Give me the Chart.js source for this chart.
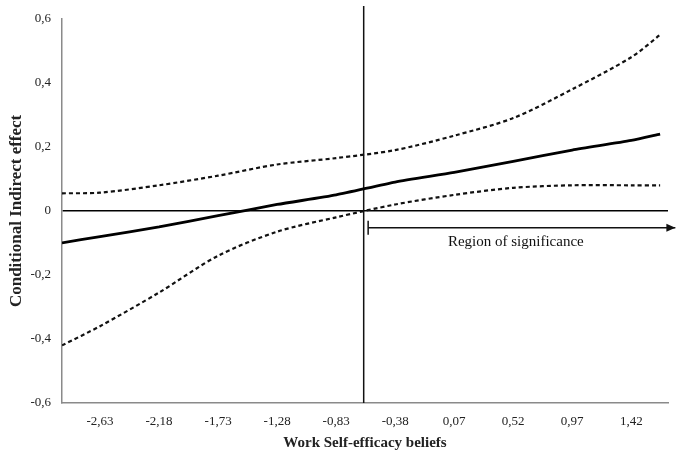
<!DOCTYPE html>
<html>
<head>
<meta charset="utf-8">
<script src="https://cdn.jsdelivr.net/npm/chart.js@4"></script>
<style>
  html, body { margin: 0; padding: 0; background: #fff; }
  #wrap { width: 678px; height: 452px; }
</style>
</head>
<body>
<div id="wrap"><canvas id="chart" width="678" height="452"></canvas></div>
<script>
// Moderator values (work self-efficacy, centred)
const xValues = [-2.92, -2.63, -2.18, -1.73, -1.28, -0.83, -0.38, 0.07, 0.52, 0.97, 1.42, 1.64];
// Conditional indirect effect and its confidence bounds
const effect = [-0.10, -0.08, -0.05, -0.015, 0.02, 0.05, 0.09, 0.12, 0.155, 0.19, 0.22, 0.24];
const upperCI = [0.055, 0.057, 0.08, 0.11, 0.145, 0.165, 0.19, 0.235, 0.29, 0.38, 0.48, 0.55];
const lowerCI = [-0.42, -0.36, -0.255, -0.14, -0.065, -0.02, 0.02, 0.05, 0.072, 0.08, 0.08, 0.08];

const xTicks = [-2.63, -2.18, -1.73, -1.28, -0.83, -0.38, 0.07, 0.52, 0.97, 1.42];
const yTicks = [-0.6, -0.4, -0.2, 0, 0.2, 0.4, 0.6];

// Johnson-Neyman point and region of significance arrow
const jnX = [-0.62, -0.62];
const jnY = [-0.6, 0.64];
const regionX = [-0.586, 1.756];
const regionY = [-0.053, -0.053];
const regionLabel = 'Region of significance';
const regionLabelPos = [0.54, -0.097];

const pts = (xs, ys) => xs.map((x, i) => ({ x: x, y: ys[i] }));
const serif = '"Liberation Serif", "Times New Roman", serif';

const regionPlugin = {
  id: 'region',
  afterDatasetsDraw(chart) {
    const { ctx, scales } = chart;
    const x0 = scales.x.getPixelForValue(regionX[0]);
    const x1 = scales.x.getPixelForValue(regionX[1]);
    const y = scales.y.getPixelForValue(regionY[0]);
    ctx.save();
    ctx.strokeStyle = '#111';
    ctx.fillStyle = '#111';
    ctx.lineWidth = 1.5;
    // start tick
    ctx.beginPath();
    ctx.moveTo(x0, y - 7);
    ctx.lineTo(x0, y + 7);
    ctx.stroke();
    // arrow head
    ctx.beginPath();
    ctx.moveTo(x1, y);
    ctx.lineTo(x1 - 9, y - 4);
    ctx.lineTo(x1 - 9, y + 4);
    ctx.closePath();
    ctx.fill();
    // label
    ctx.font = '15px ' + serif;
    ctx.textAlign = 'center';
    ctx.textBaseline = 'middle';
    ctx.fillText(regionLabel,
      scales.x.getPixelForValue(regionLabelPos[0]),
      scales.y.getPixelForValue(regionLabelPos[1]));
    ctx.restore();
  }
};

new Chart(document.getElementById('chart'), {
  type: 'scatter',
  data: {
    datasets: [
      {
        label: 'Upper CI',
        data: pts(xValues, upperCI),
        showLine: true,
        borderColor: '#111',
        borderWidth: 2.2,
        borderDash: [4, 3],
        pointRadius: 0,
        tension: 0.3
      },
      {
        label: 'Lower CI',
        data: pts(xValues, lowerCI),
        showLine: true,
        borderColor: '#111',
        borderWidth: 2.2,
        borderDash: [4, 3],
        pointRadius: 0,
        tension: 0.3
      },
      {
        label: 'Indirect effect',
        data: pts(xValues, effect),
        showLine: true,
        borderColor: '#000',
        borderWidth: 2.8,
        pointRadius: 0,
        tension: 0.2
      },
      {
        label: 'JN point',
        data: pts(jnX, jnY),
        showLine: true,
        borderColor: '#111',
        borderWidth: 1.5,
        pointRadius: 0,
        clip: false
      },
      {
        label: 'Region',
        data: pts(regionX, regionY),
        showLine: true,
        borderColor: '#111',
        borderWidth: 1.5,
        pointRadius: 0,
        clip: false
      }
    ]
  },
  options: {
    responsive: false,
    animation: false,
    layout: { padding: { top: 18, right: 10, left: 0, bottom: 0 } },
    plugins: {
      legend: { display: false },
      tooltip: { enabled: false }
    },
    scales: {
      x: {
        type: 'linear',
        min: -2.92,
        max: 1.70,
        afterBuildTicks: (axis) => { axis.ticks = xTicks.map(v => ({ value: v })); },
        afterFit: (axis) => { axis.height = 49; },
        grid: { display: false, drawTicks: false },
        border: { color: '#8a8a8a', width: 1.5 },
        ticks: {
          color: '#222',
          padding: 11,
          autoSkip: false,
          maxRotation: 0,
          font: { family: serif, size: 13 },
          callback: (v) => v.toFixed(2).replace('.', ',')
        },
        title: {
          display: true,
          text: 'Work Self-efficacy beliefs',
          color: '#222',
          padding: { top: 4, bottom: 0 },
          font: { family: serif, size: 15, weight: 'bold' }
        }
      },
      y: {
        min: -0.6,
        max: 0.6,
        afterBuildTicks: (axis) => { axis.ticks = yTicks.map(v => ({ value: v })); },
        afterFit: (axis) => { axis.width = 62; },
        grid: {
          drawTicks: false,
          color: (c) => (c.tick && Math.abs(c.tick.value) < 1e-9 ? '#000' : 'rgba(0,0,0,0)'),
          lineWidth: 1.5
        },
        border: { color: '#8a8a8a', width: 1.5 },
        ticks: {
          color: '#222',
          padding: 11,
          font: { family: serif, size: 13 },
          callback: (v) => (Math.abs(v) < 1e-9 ? '0' : v.toFixed(1).replace('.', ','))
        },
        title: {
          display: true,
          text: 'Conditional Indirect effect',
          color: '#222',
          padding: { top: 6, bottom: 4 },
          font: { family: serif, size: 17, weight: 'bold' }
        }
      }
    }
  },
  plugins: [regionPlugin]
});
</script>
</body>
</html>
